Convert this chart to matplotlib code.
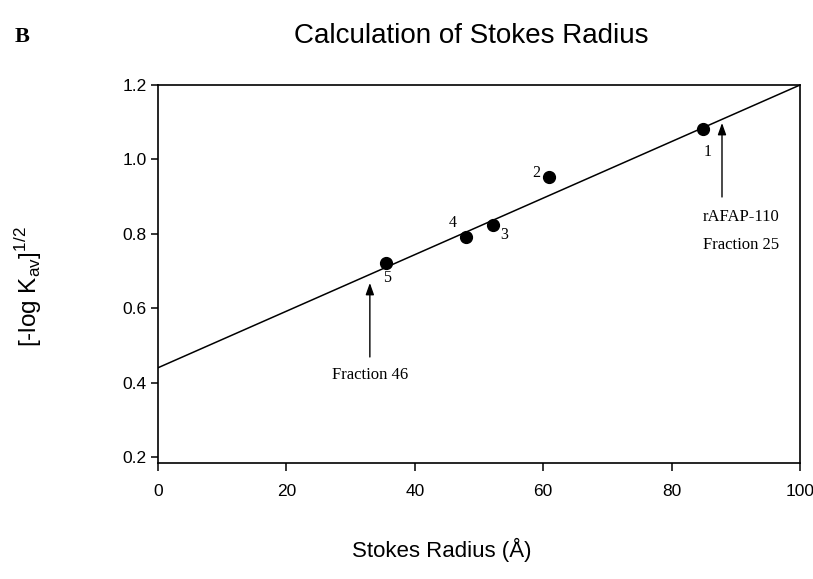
import matplotlib
matplotlib.use("Agg")
import matplotlib.pyplot as plt
import numpy as np

# Data
stokes_radius = [84.9, 60.9, 52.2, 48.0, 35.5]
sqrt_neg_log_kav = [1.083, 0.953, 0.824, 0.792, 0.722]
point_labels = ["1", "2", "3", "4", "5"]
fit_intercept = 0.44
fit_slope = 0.0076
x_ticks = [0, 20, 40, 60, 80, 100]
y_ticks = [0.2, 0.4, 0.6, 0.8, 1.0, 1.2]

sans = "Liberation Sans"
serif = "Liberation Serif"

fig = plt.figure(figsize=(8.13, 5.79), dpi=100)
ax = fig.add_axes([158/813, 1 - 463/579, (800 - 158)/813, (463 - 85)/579])

# regression line
fx = np.array([0, 100])
ax.plot(fx, fit_intercept + fit_slope * fx, color="black", lw=1.1, zorder=2)

# points
ax.plot(stokes_radius, sqrt_neg_log_kav, "o", color="black", ms=8.5, zorder=3)

offsets = [(3.6, -17), (-9.5, 3), (8, -7.5), (-10, 10), (0.7, -11)]
for x, y, lab, off in zip(stokes_radius, sqrt_neg_log_kav, point_labels, offsets):
    ax.annotate(lab, (x, y), xytext=off, textcoords="offset points",
                ha="center", va="center", fontsize=11.5, family=serif)

# arrows
ap = dict(arrowstyle="-|>,head_length=0.7,head_width=0.25", color="black", lw=1.0,
          shrinkA=0, shrinkB=0)
ax.annotate("", xy=(87.85, 1.098), xytext=(87.85, 0.899), arrowprops=ap)
ax.annotate("", xy=(33.0, 0.668), xytext=(33.0, 0.469), arrowprops=ap)
ax.text(90.8, 0.845, "rAFAP-110", ha="center", va="center", fontsize=12, family=serif)
ax.text(90.8, 0.770, "Fraction 25", ha="center", va="center", fontsize=12, family=serif)
ax.text(33.0, 0.420, "Fraction 46", ha="center", va="center", fontsize=12, family=serif)

ax.set_xlim(0, 100)
ax.set_ylim(0.184, 1.2)
ax.set_xticks(x_ticks)
ax.set_yticks(y_ticks)
ax.set_xticklabels([str(t) for t in x_ticks], family=sans, fontsize=12.5)
ax.set_yticklabels([f"{t:.1f}" for t in y_ticks], family=sans, fontsize=12.5)
ax.tick_params(axis="x", direction="out", length=6, width=1.1, pad=9)
ax.tick_params(axis="y", direction="out", length=5, width=1.1, pad=3)
for s in ax.spines.values():
    s.set_linewidth(1.2)

fig.text(471/813, 1 - 36/579, "Calculation of Stokes Radius", ha="center", va="center",
         fontsize=20, family=sans)
fig.text(22/813, 1 - 37/579, "B", ha="center", va="center", fontsize=16,
         family=serif, weight="bold")
fig.text(442/813, 1 - 550/579, "Stokes Radius (Å)", ha="center", va="center",
         fontsize=16, family=sans)
fig.text(29/813, 1 - 287/579, r"[-log K$_{\mathregular{av}}$]$^{\mathregular{1/2}}$",
         ha="center", va="center", rotation=90, fontsize=17.5, family=sans)

fig.savefig("out.png", dpi=100)
